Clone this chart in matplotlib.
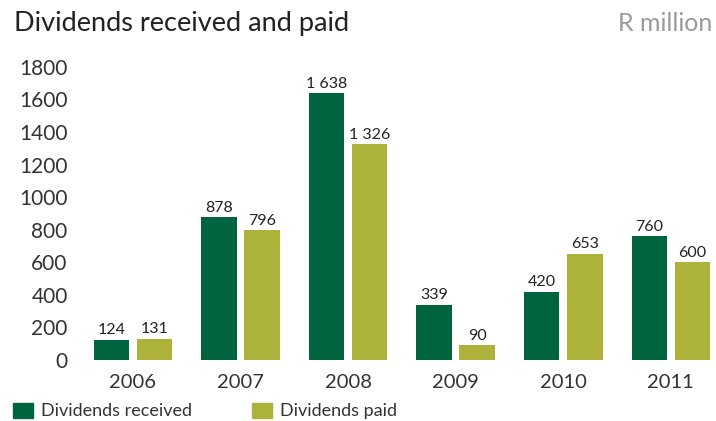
import numpy as np
import matplotlib.pyplot as plt
from matplotlib.patches import Patch

plt.rcParams['font.family'] = ['Lato', 'DejaVu Sans']

years = ["2006", "2007", "2008", "2009", "2010", "2011"]
received = [124, 878, 1638, 339, 420, 760]
paid = [131, 796, 1326, 90, 653, 600]
received_labels = ["124", "878", "1 638", "339", "420", "760"]
paid_labels = ["131", "796", "1 326", "90", "653", "600"]

green = "#00653f"
olive = "#adb23b"

fig = plt.figure(figsize=(7.16, 4.21), dpi=100)
ax = fig.add_axes([0.112, 0.145, 0.888, 0.696])

x = np.arange(len(years))
w = 0.33
off = 0.20
b1 = ax.bar(x - off, received, w, color=green)
b2 = ax.bar(x + off, paid, w, color=olive)

for bars, labels in [(b1, received_labels), (b2, paid_labels)]:
    for bar, lab in zip(bars, labels):
        ax.text(bar.get_x() + bar.get_width() / 2, bar.get_height() + 15, lab,
                ha="center", va="bottom", fontsize=11.5, color="#222222")

ax.set_xlim(-0.49, 5.42)
ax.set_ylim(0, 1800)
ax.set_yticks(range(0, 1801, 200))
ax.set_xticks(x)
ax.set_xticklabels(years)
ax.tick_params(axis="both", length=0, colors="#333333")
ax.tick_params(axis="y", pad=9, labelsize=15)
ax.tick_params(axis="x", pad=10, labelsize=14.5)
for s in ax.spines.values():
    s.set_visible(False)

fig.text(0.02, 0.945, "Dividends received and paid", fontsize=19.5, color="#222222", va="center")
fig.text(0.995, 0.945, "R million", fontsize=18, color="#9a9a9a", va="center", ha="right")

handles = [Patch(color=green, label="Dividends received"),
           Patch(color=olive, label="Dividends paid")]
fig.legend(handles=handles, loc="lower left", bbox_to_anchor=(-0.004, -0.035), ncol=2,
           frameon=False, fontsize=13, handlelength=1.1, handleheight=0.9,
           handletextpad=0.45, columnspacing=3.3, labelcolor="#333333")

fig.savefig("out.png", dpi=100)
